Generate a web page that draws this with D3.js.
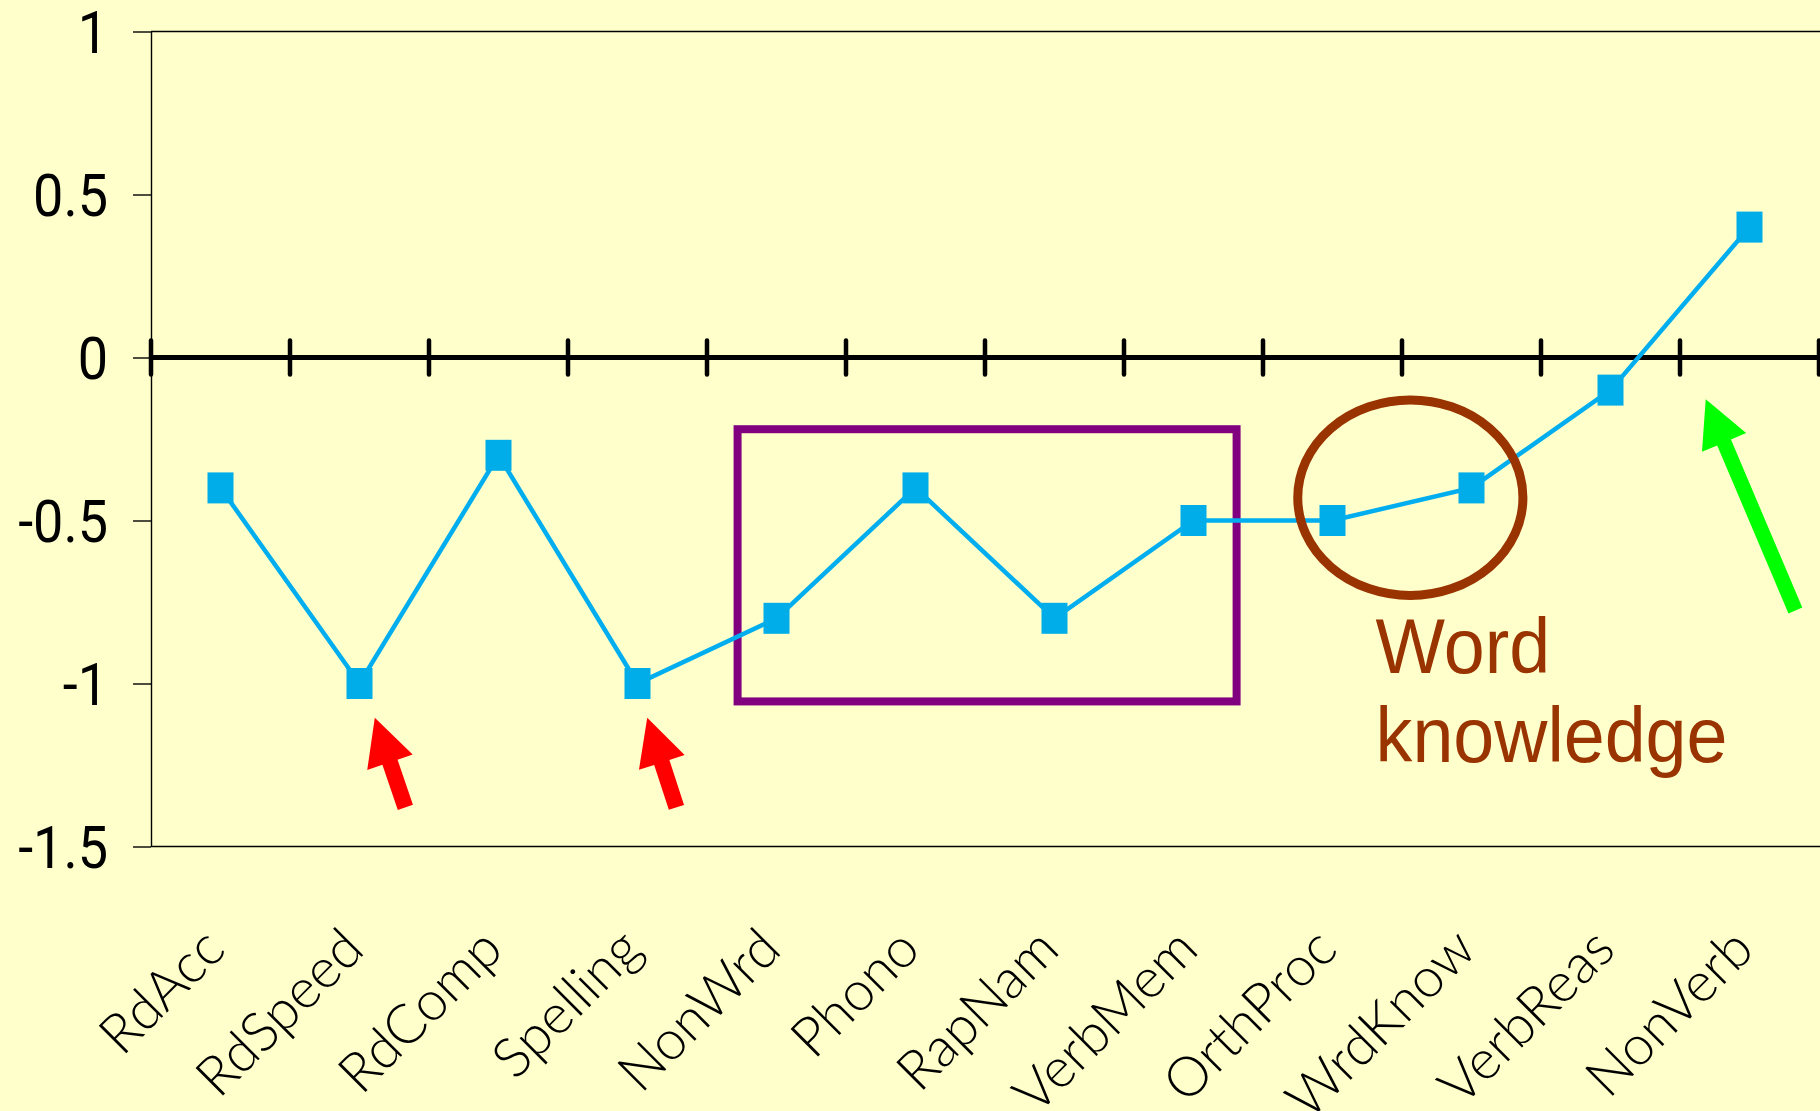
<!DOCTYPE html>
<html>
<head>
<meta charset="utf-8">
<script src="https://cdn.jsdelivr.net/npm/d3@7"></script>
<style>
  html, body { margin: 0; padding: 0; background: #FFFFCC; }
  svg { display: block; }
</style>
</head>
<body>
<script>
// ---- data ----
const categories = ["RdAcc", "RdSpeed", "RdComp", "Spelling", "NonWrd", "Phono",
                    "RapNam", "VerbMem", "OrthProc", "WrdKnow", "VerbReas", "NonVerb"];
const scores = [-0.4, -1.0, -0.3, -1.0, -0.8, -0.4, -0.8, -0.5, -0.5, -0.4, -0.1, 0.4];
const yTicks = [1, 0.5, 0, -0.5, -1, -1.5];
const yTickLabels = ["1", "0.5", "0", "-0.5", "-1", "-1.5"];

// annotations, in (category index, score) units
const groupBox = { x0: 4.22, x1: 7.81, y0: -0.22, y1: -1.055 };
const knowledgeRing = { cx: 9.06, cy: -0.43, rx: 0.81, ry: 0.30 };
const knowledgeLines = ["Word", "knowledge"];
const knowledgeLabelX = 8.81;
const knowledgeLabelY = [-0.967, -1.24];
const weakArrows = [
  { from: [1.83, -1.38], to: [1.61, -1.105] },
  { from: [3.78, -1.38], to: [3.57, -1.105] }
];
const strongArrow = { from: [11.83, -0.776], to: [11.185, -0.128] };

// ---- layout ----
const W = 1820, H = 1111;
const plotLeft = 151, plotRight = 1819, plotTop = 31.5, plotBottom = 846.5;

const svg = d3.select("body").append("svg")
  .attr("width", W).attr("height", H);

svg.append("rect").attr("width", W).attr("height", H).attr("fill", "#FFFFCC");

const x = d3.scaleBand().domain(categories).range([plotLeft, plotRight]).padding(0);
const xi = d3.scaleLinear().domain([0, categories.length]).range([plotLeft, plotRight]);
const y = d3.scaleLinear().domain([-1.5, 1]).range([plotBottom, plotTop]);
const cx = c => x(c) + x.bandwidth() / 2;

// plot frame: top and bottom edges
svg.append("g")
  .selectAll("line")
  .data([1, -1.5])
  .join("line")
  .attr("x1", plotLeft).attr("x2", W)
  .attr("y1", d => y(d)).attr("y2", d => y(d))
  .attr("stroke", "#000").attr("stroke-width", 1.4);

// y axis
const yAxis = svg.append("g")
  .attr("transform", `translate(${plotLeft},0)`)
  .call(d3.axisLeft(y).tickValues(yTicks).tickSize(18).tickSizeOuter(0).tickFormat(""));
yAxis.select(".domain").attr("stroke", "#000").attr("stroke-width", 1.4);
yAxis.selectAll(".tick line").attr("stroke", "#000").attr("stroke-width", 1.4);

svg.append("g")
  .selectAll("text")
  .data(yTicks)
  .join("text")
  .attr("transform", d => `translate(108,${y(d) + 21.5}) scale(0.9,1)`)
  .attr("text-anchor", "end")
  .attr("font-family", "Roboto, 'Liberation Sans', sans-serif")
  .attr("font-size", 60)
  .attr("fill", "#000")
  .text((d, i) => yTickLabels[i]);

// zero line with category boundary ticks
const zeroY = y(0);
svg.append("line")
  .attr("x1", plotLeft).attr("x2", W)
  .attr("y1", zeroY).attr("y2", zeroY)
  .attr("stroke", "#000").attr("stroke-width", 5);
svg.append("g")
  .selectAll("line")
  .data(d3.range(categories.length + 1))
  .join("line")
  .attr("x1", d => xi(d)).attr("x2", d => xi(d))
  .attr("y1", zeroY - 17).attr("y2", zeroY + 17)
  .attr("stroke", "#000").attr("stroke-width", 4.5)
  .attr("stroke-linecap", "round");

// category labels
svg.append("g")
  .selectAll("text")
  .data(categories)
  .join("text")
  .attr("transform", d => `translate(${cx(d) + 7},${952}) rotate(-45)`)
  .attr("text-anchor", "end")
  .attr("font-family", "Lato, 'Open Sans', sans-serif")
  .attr("font-weight", 300)
  .attr("font-size", 55)
  .attr("fill", "#000")
  .text(d => d);

// annotation: grouped box
svg.append("rect")
  .attr("x", xi(groupBox.x0)).attr("y", y(groupBox.y0))
  .attr("width", xi(groupBox.x1) - xi(groupBox.x0))
  .attr("height", y(groupBox.y1) - y(groupBox.y0))
  .attr("fill", "none").attr("stroke", "#800080").attr("stroke-width", 8);

// series line and markers
const pts = categories.map((c, i) => ({ c, v: scores[i] }));
svg.append("path")
  .datum(pts)
  .attr("fill", "none")
  .attr("stroke", "#00AEEF")
  .attr("stroke-width", 4.5)
  .attr("d", d3.line().x(d => cx(d.c)).y(d => y(d.v)));

svg.append("g")
  .selectAll("rect")
  .data(pts)
  .join("rect")
  .attr("x", d => cx(d.c) - 13).attr("y", d => y(d.v) - 15.5)
  .attr("width", 26).attr("height", 31)
  .attr("fill", "#00ADE8");

// annotation: word knowledge ring and label
svg.append("ellipse")
  .attr("cx", xi(knowledgeRing.cx)).attr("cy", y(knowledgeRing.cy))
  .attr("rx", xi(knowledgeRing.rx) - xi(0))
  .attr("ry", y(0) - y(knowledgeRing.ry))
  .attr("fill", "none").attr("stroke", "#993300").attr("stroke-width", 9);

svg.append("g")
  .selectAll("text")
  .data(knowledgeLines)
  .join("text")
  .attr("transform", (d, i) => `translate(${xi(knowledgeLabelX)},${y(knowledgeLabelY[i])}) scale(0.956,1)`)
  .attr("font-family", "'Liberation Sans', Arial, sans-serif")
  .attr("font-size", 77)
  .attr("fill", "#993300")
  .text(d => d);

// arrows
function arrowPath(from, to, shaft, headW, headL) {
  const sx = xi(from[0]), sy = y(from[1]);
  const tx = xi(to[0]), ty = y(to[1]);
  const len = Math.hypot(tx - sx, ty - sy);
  const ux = (tx - sx) / len, uy = (ty - sy) / len;
  const nx = -uy, ny = ux;
  const bx = tx - ux * headL, by = ty - uy * headL;
  const p = [
    [sx + nx * shaft / 2, sy + ny * shaft / 2],
    [bx + nx * shaft / 2, by + ny * shaft / 2],
    [bx + nx * headW / 2, by + ny * headW / 2],
    [tx, ty],
    [bx - nx * headW / 2, by - ny * headW / 2],
    [bx - nx * shaft / 2, by - ny * shaft / 2],
    [sx - nx * shaft / 2, sy - ny * shaft / 2]
  ];
  return "M" + p.map(q => q.join(",")).join("L") + "Z";
}

svg.append("g")
  .selectAll("path")
  .data(weakArrows)
  .join("path")
  .attr("d", d => arrowPath(d.from, d.to, 16, 48, 47))
  .attr("fill", "#FF0000");

svg.append("path")
  .attr("d", arrowPath(strongArrow.from, strongArrow.to, 15, 48, 47))
  .attr("fill", "#00FF00");
</script>
</body>
</html>
